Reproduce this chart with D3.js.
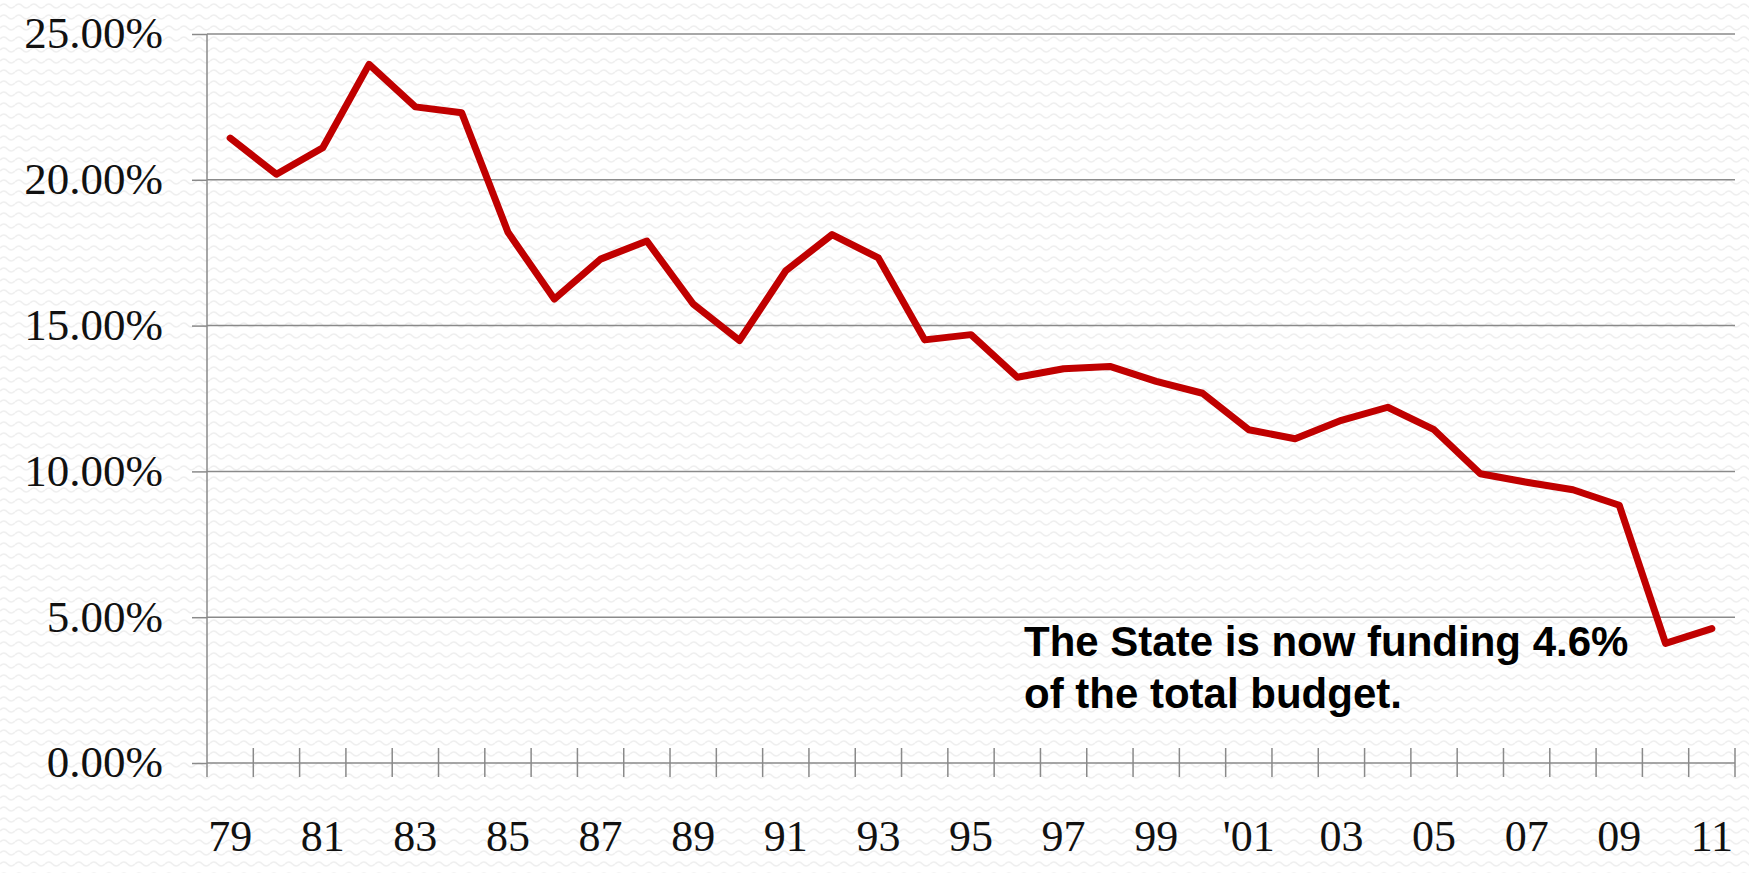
<!DOCTYPE html>
<html>
<head>
<meta charset="utf-8">
<script src="https://cdn.jsdelivr.net/npm/d3@7"></script>
<style>
  html, body { margin: 0; padding: 0; background: #ffffff; }
  svg { display: block; }
</style>
</head>
<body>
<svg id="chart" width="1749" height="873"></svg>
<script>
// ---- data ----
const years = [1979,1980,1981,1982,1983,1984,1985,1986,1987,1988,1989,1990,1991,1992,1993,1994,1995,1996,1997,1998,1999,2000,2001,2002,2003,2004,2005,2006,2007,2008,2009,2010,2011];
const statePct = [21.43,20.19,21.1,23.96,22.5,22.3,18.2,15.91,17.28,17.9,15.74,14.49,16.88,18.12,17.32,14.51,14.69,13.23,13.52,13.6,13.09,12.68,11.43,11.12,11.75,12.2,11.43,9.92,9.63,9.37,8.84,4.10,4.61];
const yTicks = [0,5,10,15,20,25];
const xLabelYears = [1979,1981,1983,1985,1987,1989,1991,1993,1995,1997,1999,2001,2003,2005,2007,2009,2011];
const xLabelText = ["79","81","83","85","87","89","91","93","95","97","99","'01","03","05","07","09","11"];
const noteLines = ["The State is now funding 4.6%", "of the total budget."];

// ---- setup ----
const svg = d3.select("#chart");
const W = 1749, H = 873;
const pLeft = 207, pRight = 1735, pTop = 34, pBottom = 763;

// background texture
const defs = svg.append("defs");
const pat = defs.append("pattern").attr("id","wave").attr("patternUnits","userSpaceOnUse")
  .attr("width",15).attr("height",11);
pat.append("rect").attr("width",15).attr("height",11).attr("fill","#ffffff");
pat.append("path").attr("d","M0,6 Q3.75,2 7.5,6 T15,6")
  .attr("fill","none").attr("stroke","#efefef").attr("stroke-width",1.5);
svg.append("rect").attr("width",W).attr("height",H).attr("fill","url(#wave)");

const x = d3.scaleBand().domain(years).range([pLeft, pRight]).padding(0);
const y = d3.scaleLinear().domain([0,25]).range([pBottom, pTop]);

const gridColor = "#8a8a8a";
const fontSerif = "'Liberation Serif','DejaVu Serif',serif";

// gridlines
svg.append("g").selectAll("line").data(yTicks).join("line")
  .attr("x1", pLeft).attr("x2", pRight)
  .attr("y1", d => y(d)).attr("y2", d => y(d))
  .attr("stroke", gridColor).attr("stroke-width", 1.5);

// y axis (short outward ticks + labels)
const yAxis = d3.axisLeft(y).tickValues(yTicks).tickSize(15).tickPadding(29)
  .tickFormat(d => d.toFixed(2) + "%");
const gy = svg.append("g").attr("transform", `translate(${pLeft},0)`).call(yAxis);
gy.select(".domain").remove();
gy.selectAll(".tick line").attr("stroke", gridColor).attr("stroke-width", 1.5);
gy.selectAll(".tick text").attr("font-family", fontSerif).attr("font-size", 45)
  .attr("fill", "#111").attr("dy", "0.31em");

// vertical axis line
svg.append("line").attr("x1", pLeft).attr("x2", pLeft)
  .attr("y1", y(25)).attr("y2", y(0) + 14)
  .attr("stroke", gridColor).attr("stroke-width", 1.5);

// x tick marks at band boundaries
const boundaries = years.map(yr => x(yr)).concat([x(years[years.length-1]) + x.bandwidth()]);
svg.append("g").selectAll("line").data(boundaries.slice(1)).join("line")
  .attr("x1", d => d).attr("x2", d => d)
  .attr("y1", y(0) - 15).attr("y2", y(0) + 14)
  .attr("stroke", gridColor).attr("stroke-width", 1.5);

// x labels
svg.append("g").selectAll("text").data(xLabelYears).join("text")
  .attr("x", d => x(d) + x.bandwidth()/2)
  .attr("y", 851)
  .attr("text-anchor", "middle")
  .attr("font-family", fontSerif).attr("font-size", 44).attr("fill", "#111")
  .text((d,i) => xLabelText[i]);

// line
const line = d3.line().x((d,i) => x(years[i]) + x.bandwidth()/2).y(d => y(d));
svg.append("path").datum(statePct)
  .attr("d", line)
  .attr("fill", "none").attr("stroke", "#C00000")
  .attr("stroke-width", 7).attr("stroke-linejoin", "round").attr("stroke-linecap", "round");

// annotation
svg.append("g").selectAll("text").data(noteLines).join("text")
  .attr("x", 1024).attr("y", (d,i) => 656 + i*52)
  .attr("font-family", "'Liberation Sans', Arial, sans-serif")
  .attr("font-weight", "bold").attr("font-size", 42).attr("fill", "#000")
  .text(d => d);
</script>
</body>
</html>
